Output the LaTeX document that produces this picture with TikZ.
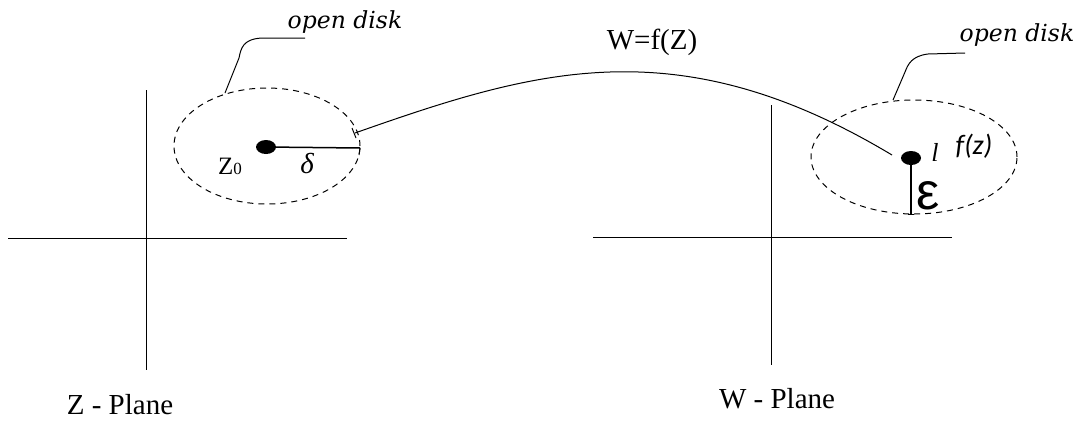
\documentclass[tikz,border=0pt]{standalone}
\usepackage{fontspec}
\setmainfont{Liberation Serif}
\newfontfamily\dvserif{DejaVu Serif}
\newfontfamily\carl{Carlito}
\newfontfamily\lsans{Liberation Sans}
\usetikzlibrary{shapes.geometric}
\begin{document}
\begin{tikzpicture}[x=1pt,y=-1pt,
  axis/.style={line width=1pt},
  thin line/.style={line width=1pt},
  radius line/.style={line width=1.5pt},
  disk/.style={draw, ellipse, dash pattern=on 6pt off 5pt, line width=1pt, inner sep=0pt},
  dotnode/.style={ellipse, fill=black, minimum width=20pt, minimum height=14pt, inner sep=0pt},
  lbl/.style={inner sep=0pt, outer sep=0pt},
  sz/.style={font=\fontsize{#1}{#1}\selectfont}
]
\useasboundingbox (0,0) rectangle (1078,421);
% axes
\coordinate (zxl) at (8,238);   \coordinate (zxr) at (347,238);
\coordinate (zyt) at (146,90);  \coordinate (zyb) at (146,370);
\coordinate (wxl) at (593,237); \coordinate (wxr) at (952,237);
\coordinate (wyt) at (771,105); \coordinate (wyb) at (771,365);
\draw[axis] (zxl) -- (zxr);
\draw[axis] (zyt) -- (zyb);
\draw[axis] (wxl) -- (wxr);
\draw[axis] (wyt) -- (wyb);
% disks
\node[disk, minimum width=186pt, minimum height=116pt] (ldisk) at (267,146) {};
\node[disk, minimum width=206pt, minimum height=114pt] (rdisk) at (914,157) {};
% dots
\node[dotnode] (ldot) at (266,147) {};
\node[dotnode] (rdot) at (911,158) {};
% radius delta
\coordinate (dend) at (360,148);
\draw[radius line] (ldot.center) -- (dend);
\draw[thin line] (dend) -- ++(-1,7);
% radius epsilon
\coordinate (eend) at (911,214);
\draw[radius line] (rdot.center) -- (eend);
\draw[thin line] (eend) ++(-3,0) -- ++(6,0);
% connector curve
\coordinate (cstart) at (355,133);
\coordinate (cend) at (892,155);
\draw[thin line] (cstart) .. controls (534,70) and (677,26) .. (cend);
\draw[thin line] (cstart) ++(-3,-5) -- ++(4,10);
% labels
\node[lbl, sz=25pt] (z0) at (230,166) {Z{\fontsize{17pt}{17pt}\selectfont 0}};
\node[lbl, sz=29pt] (delta) at (307,164) {\itshape δ};
\node[lbl, sz=29pt] (wf) at (652,42) {W=f(Z)};
\node[lbl, sz=26pt] (lab) at (935,152) {\itshape l};
\node[lbl, sz=28pt] (fz) at (974,146) {\carl\itshape f(z)};
\node[lbl, sz=52pt] (eps) at (928,196) {\lsans ε};
\node[lbl, sz=29pt] (zp) at (120,405) {Z - Plane};
\node[lbl, sz=29pt] (wp) at (777,399) {W - Plane};
\node[lbl, sz=23.5pt] (od1) at (345,22) {\dvserif\itshape open disk};
\node[lbl, sz=23.5pt] (od2) at (1017,35) {\dvserif\itshape open disk};
% leaders
\coordinate (l1a) at (305,38); \coordinate (l1b) at (225,93);
\draw[thin line] (l1a) -- (262,38) .. controls (243,39) and (241,48) .. (239,58) -- (l1b);
\coordinate (l2a) at (965,53); \coordinate (l2b) at (893,100);
\draw[thin line] (l2a) -- (928,54) .. controls (912,56) and (908,64) .. (905,72) -- (l2b);
\end{tikzpicture}
\end{document}
